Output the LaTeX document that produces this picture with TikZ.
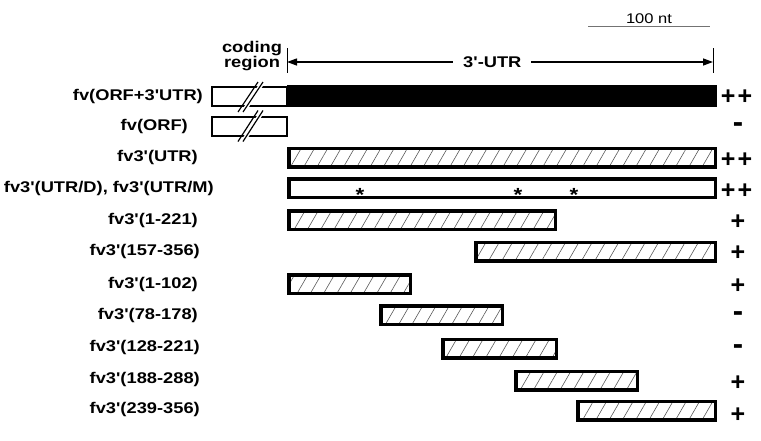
\documentclass[tikz,border=0pt]{standalone}
\usepackage{fontspec}
\newfontfamily\labfont{Liberation Sans}[FakeStretch=1.18, Ligatures=TeXOff]
\newfontfamily\signfont{Liberation Sans}[Ligatures=TeXOff]
\usepackage{tikz}
\usetikzlibrary{arrows.meta, positioning, patterns.meta}
\tikzset{%
	lbl/.style={anchor=east, inner sep=0pt, font=\labfont\bfseries\fontsize{15.5}{16}\selectfont},
	bar/.style={draw, line width=3.5pt, minimum height=18.5pt, inner sep=0pt, outer sep=0pt, anchor=west},
	hatch/.style={bar, pattern={Lines[angle=60, distance=11.5pt, line width=0.6pt]}, pattern color=black!65},
	fullbar/.style={fill=black, minimum height=22pt, inner sep=0pt, outer sep=0pt, anchor=west},
	cds/.style={draw, line width=2pt, fill=white, minimum width=75pt, minimum height=19pt, inner sep=0pt},
	brk/.style={line width=1.2pt},
	sign/.style={inner sep=0pt, font=\signfont\bfseries\fontsize{25}{26}\selectfont},
	minus/.style={sign, font=\signfont\bfseries\fontsize{31}{31}\selectfont},
	star/.style={inner sep=0pt, font=\labfont\bfseries\fontsize{19}{19}\selectfont},
	utr/.style={arrows={Triangle[length=10pt,width=7pt]-Triangle[length=10pt,width=7pt]}, line width=1.3pt},
	tick/.style={line width=1pt},
	scalebar/.style={draw=black!55, line width=0.8pt}
}
\begin{document}
\begin{tikzpicture}[x=1pt, y=-1pt]
	\useasboundingbox (0,0) rectangle (761,440);

	% scale bar
	\coordinate (sbL) at (588,26);
	\coordinate (sbR) at (710,26);
	\draw[scalebar] (sbL) -- node[above=1.5pt, inner sep=0pt, font=\labfont\fontsize{14}{14}\selectfont] (sbtxt) {100 nt} (sbR);

	% coding region / 3'-UTR header
	\node[align=center, inner sep=0pt, font=\labfont\bfseries\fontsize{15.5}{15}\selectfont] (coding) at (252,56) {coding\\region};
	\coordinate (utrL) at (287,62);
	\coordinate (utrR) at (713,62);
	\draw[tick] ([yshift=14pt]utrL) -- ([yshift=-11pt]utrL);
	\draw[tick] ([yshift=14pt]utrR) -- ([yshift=-11pt]utrR);
	\draw[utr] (utrL) -- node[pos=0.482, fill=white, inner xsep=10pt, inner ysep=2pt, font=\labfont\bfseries\fontsize{15.5}{16}\selectfont] (utrtxt) {3'-UTR} (utrR);

	% constructs
	\node[lbl] (lab1) at (203,96.5) {fv(ORF+3'UTR)};
	\node[fullbar, minimum width=430pt] (bar1) at (287,96) {};
	\node[cds] (cds1) at (249.5,96.5) {};
	\fill[white] (240.5,112) -- (260.5,82) -- (265.5,82) -- (245.5,112) -- cycle;
	\draw[brk] (238,112) -- (258,82);
	\draw[brk] (243,112) -- (263,82);
	\node[sign] (sg1) at (736.5,97.5) {+\kern2pt+};

	\node[lbl] (lab2) at (188,126.5) {fv(ORF)};
	\node[cds] (cds2) at (249.5,126) {};
	\fill[white] (240.5,141.5) -- (260.5,110.5) -- (265.5,110.5) -- (245.5,141.5) -- cycle;
	\draw[brk] (238,141.5) -- (258,110.5);
	\draw[brk] (243,141.5) -- (263,110.5);
	\node[minus] (sg2) at (738,127.5) {-};

	\node[lbl] (lab3) at (198,157.5) {fv3'(UTR)};
	\node[hatch, minimum width=426.5pt] (bar3) at (288.75,157.5) {};
	\node[sign] (sg3) at (736.5,160) {+\kern2pt+};

	\node[lbl] (lab4) at (214,188) {fv3'(UTR/D), fv3'(UTR/M)};
	\node[bar, minimum width=426.5pt] (bar4) at (288.75,188) {};
	\node[star] (m1) at (360,195) {*};
	\node[star] (m2) at (518,195) {*};
	\node[star] (m3) at (574,195) {*};
	\node[sign] (sg4) at (736.5,191) {+\kern2pt+};

	\node[lbl] (lab5) at (198,220) {fv3'(1-221)};
	\node[hatch, minimum width=266.5pt] (bar5) at (288.75,220) {};
	\node[sign] (sg5) at (738,222) {+};

	\node[lbl] (lab6) at (200,251.5) {fv3'(157-356)};
	\node[hatch, minimum width=239.5pt] (bar6) at (475.75,251.5) {};
	\node[sign] (sg6) at (738,253) {+};

	\node[lbl] (lab7) at (198,284) {fv3'(1-102)};
	\node[hatch, minimum width=121.5pt] (bar7) at (288.75,284) {};
	\node[sign] (sg7) at (738,286) {+};

	\node[lbl] (lab8) at (198,315) {fv3'(78-178)};
	\node[hatch, minimum width=121.5pt] (bar8) at (380.75,315) {};
	\node[minus] (sg8) at (738,316.5) {-};

	\node[lbl] (lab9) at (200,347.5) {fv3'(128-221)};
	\node[hatch, minimum width=113.5pt] (bar9) at (442.75,348.5) {};
	\node[minus] (sg9) at (738,350) {-};

	\node[lbl] (lab10) at (200,379.5) {fv3'(188-288)};
	\node[hatch, minimum width=121.5pt] (bar10) at (515.75,380.5) {};
	\node[sign] (sg10) at (738,383) {+};

	\node[lbl] (lab11) at (200,409.5) {fv3'(239-356)};
	\node[hatch, minimum width=137.5pt] (bar11) at (577.75,410.5) {};
	\node[sign] (sg11) at (738,415) {+};
\end{tikzpicture}
\end{document}
